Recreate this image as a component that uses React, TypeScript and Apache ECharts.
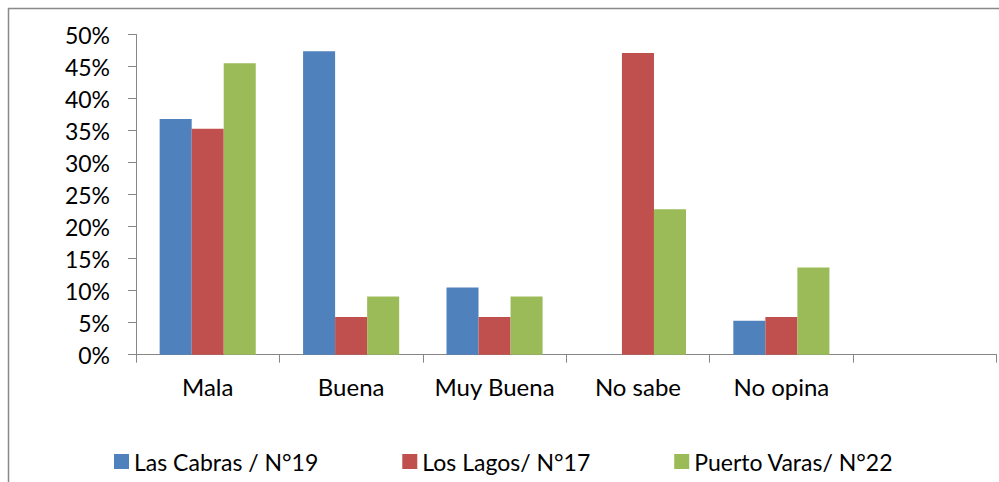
import React, { useEffect, useRef } from "react";
import * as echarts from "echarts";

const categories = ["Mala", "Buena", "Muy Buena", "No sabe", "No opina", ""];
const seriesNames = ["Las Cabras / N°19", "Los Lagos/ N°17", "Puerto Varas/ N°22"];
const lasCabras = [36.8, 47.4, 10.5, 0, 5.3, null];
const losLagos = [35.3, 5.9, 5.9, 47.1, 5.9, null];
const puertoVaras = [45.5, 9.1, 9.1, 22.7, 13.6, null];
const colors = ["#4F81BD", "#C0504D", "#9BBB59"];

const FONT = "Lato";

export default function App() {
  const ref = useRef<HTMLDivElement>(null);
  useEffect(() => {
    if (!ref.current) return;
    const chart = echarts.init(ref.current, null, { renderer: "svg" });
    const values = [lasCabras, losLagos, puertoVaras];
    chart.setOption({
      animation: false,
      backgroundColor: "#ffffff",
      grid: { left: 136, top: 34.5, right: 2.5, bottom: 127.3, containLabel: false },
      legend: {
        left: 109,
        top: 445,
        itemWidth: 15,
        itemHeight: 15,
        itemGap: 84,
        icon: "rect",
        data: seriesNames,
        textStyle: { fontFamily: FONT, fontSize: 23, color: "#000" },
      },
      xAxis: {
        type: "category",
        data: categories,
        axisLine: { lineStyle: { color: "#868686", width: 1 } },
        axisTick: { show: true, length: 8, lineStyle: { color: "#868686" } },
        axisLabel: { fontFamily: FONT, fontSize: 24, color: "#000", margin: 20, interval: 0 },
      },
      yAxis: {
        type: "value",
        min: 0,
        max: 50,
        interval: 5,
        splitLine: { show: false },
        axisLine: { show: true, lineStyle: { color: "#868686", width: 1 } },
        axisTick: { show: true, length: 8, lineStyle: { color: "#868686" } },
        axisLabel: { fontFamily: FONT, fontSize: 23, color: "#000", margin: 26, formatter: "{value}%" },
      },
      graphic: [
        {
          type: "rect",
          shape: { x: 8.5, y: 8.5, width: 1100, height: 600 },
          style: { fill: "none", stroke: "#898989", lineWidth: 1.5 },
          silent: true,
          z: -1,
        },
      ],
      series: seriesNames.map((name, i) => ({
        name,
        type: "bar",
        data: values[i],
        barGap: "0%",
        barCategoryGap: "33%",
        itemStyle: { color: colors[i] },
      })),
    });
    return () => chart.dispose();
  }, []);
  return (
    <div
      ref={ref}
      style={{ position: "fixed", left: 0, top: 0, width: 999, height: 482 }}
    />
  );
}
